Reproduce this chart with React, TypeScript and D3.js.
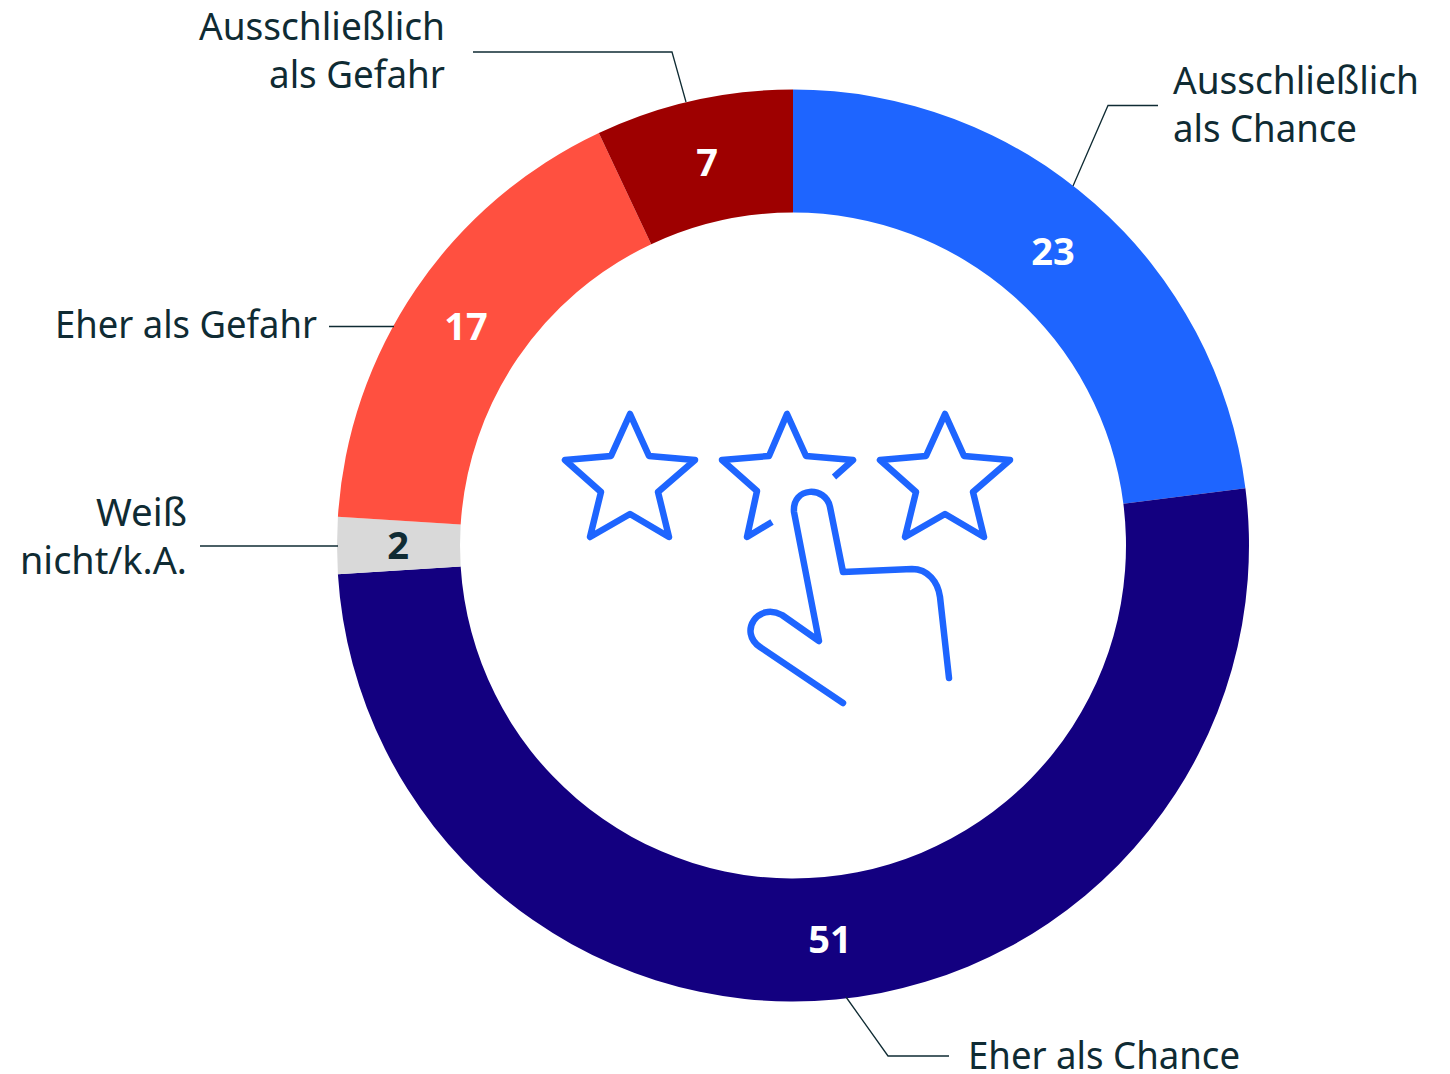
import React from "react";
import * as d3 from "d3";

const categories = ["Ausschließlich als Chance", "Eher als Chance", "Weiß nicht/k.A.", "Eher als Gefahr", "Ausschließlich als Gefahr"];
const values = [23, 51, 2, 17, 7];
const colors = ["#1e65ff", "#130080", "#d9d9d9", "#ff5040", "#9e0000"];
const valueColors = ["#fff", "#fff", "#0f2b33", "#fff", "#fff"];
const labelLines = [["Ausschließlich", "als Chance"], ["Eher als Chance"], ["Weiß", "nicht/k.A."], ["Eher als Gefahr"], ["Ausschließlich", "als Gefahr"]];
const labelWidths = [[246, 184], [272], [91, 167], [262], [246, 176]];
const labelPos = [[1173, 94, "start"], [968, 1069, "start"], [187, 526, "end"], [317, 338, "end"], [445, 40, "end"]];
const leaders = ["M1073 186L1108 105.5H1158", "M846 997L888 1056H949", "M338 546H200", "M394 326.5H329", "M686 102L672 52H473"];
const valuePos = [[1053, 251], [830, 939], [398, 545], [466, 326], [707, 162]];
const FONT = "'Noto Sans', 'Open Sans', sans-serif";
const INK = "#0f2b33";
const BLUE = "#1e65ff";

const cx = 793, cy = 545.5, outer = 456, inner = 333;

const starShape: [number, number][] = [[0, 414], [19, 456], [65, 460], [28, 492], [39, 537], [0, 514], [-40, 537], [-29, 492], [-65, 460], [-19, 456]];
const starCenters = [630, 945];
const brokenStar: [number, number][] = [[834, 477], [853, 460], [806, 456], [787, 414], [769, 456], [722, 460], [757, 491], [747, 537], [772, 522]];
const HAND = "M843 703L760 647C738 632 758 602 782 615L819 641L794 512C792 486 826 486 830 507L843 572L912 569C928 569 938 582 940 597L949 678";

export default function App() {
  const pie = d3.pie<number>().sort(null)(values);
  const arc = d3.arc<d3.PieArcDatum<number>>().innerRadius(inner).outerRadius(outer);
  const line = d3.line();
  return (
    <svg width={1450} height={1074} style={{ position: "absolute", left: 0, top: 0 }}>
      <g transform={`translate(${cx},${cy})`}>
        {pie.map((d, i) => <path key={categories[i]} d={arc(d) as string} fill={colors[i]} />)}
      </g>
      {leaders.map((d, i) => <path key={i} d={d} fill="none" stroke={INK} strokeWidth={1.3} />)}
      {labelLines.map((ls, i) => (
        <g key={i}>
          {ls.map((l, j) => (
            <text key={j} x={labelPos[i][0] as number} y={(labelPos[i][1] as number) + j * 48} textAnchor={labelPos[i][2] as any}
              textLength={labelWidths[i][j]} lengthAdjust="spacingAndGlyphs" fontFamily={FONT} fontSize={38} fill={INK}>{l}</text>
          ))}
        </g>
      ))}
      {values.map((v, i) => (
        <text key={i} x={valuePos[i][0]} y={valuePos[i][1]} dy="0.36em" textAnchor="middle" fontFamily={FONT} fontWeight={700} fontSize={38} fill={valueColors[i]}>{v}</text>
      ))}
      <g fill="none" stroke={BLUE} strokeWidth={6.5} strokeLinejoin="round" strokeLinecap="round">
        {starCenters.map((c) => (
          <path key={c} d={line(starShape.map(([x, y]) => [c + x, y] as [number, number]))! + "Z"} />
        ))}
        <path d={line(brokenStar)!} strokeLinecap="butt" />
        <path d={HAND} />
      </g>
    </svg>
  );
}
